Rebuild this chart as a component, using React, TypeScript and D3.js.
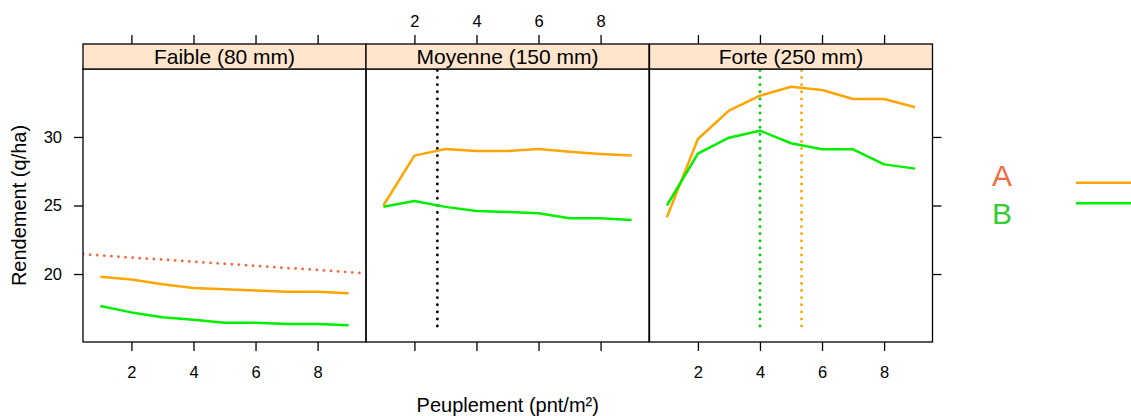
import { useEffect, useRef } from 'react';
import * as d3 from 'd3';

// Data
const densities = [1, 2, 3, 4, 5, 6, 7, 8, 9];
const panelLabels = ['Faible (80 mm)', 'Moyenne (150 mm)', 'Forte (250 mm)'];
const varieties = ['A', 'B'];

const faibleA = [19.8, 19.6, 19.25, 18.98, 18.88, 18.8, 18.7, 18.7, 18.6];
const faibleB = [17.66, 17.2, 16.84, 16.67, 16.45, 16.45, 16.35, 16.35, 16.26];
const moyenneA = [25.0, 28.64, 29.12, 28.98, 28.98, 29.12, 28.93, 28.76, 28.64];
const moyenneB = [24.91, 25.33, 24.9, 24.6, 24.53, 24.43, 24.07, 24.07, 23.94];
const forteA = [24.14, 29.85, 31.92, 33.01, 33.67, 33.43, 32.77, 32.77, 32.17];
const forteB = [25.0, 28.78, 29.95, 30.46, 29.54, 29.1, 29.1, 28.0, 27.69];

// reference lines: trend (intercept, slope) for Faible, optimum densities elsewhere
const faibleTrend = [21.51, -0.152];
const moyenneOptimum = [2.74];
const forteOptimumA = [5.34];
const forteOptimumB = [4.0];
const optimumBase = 16.2;

const xTicks = [2, 4, 6, 8];
const yTicks = [20, 25, 30];

const App = () => {
  const chartRef = useRef(null);

  useEffect(() => {
    if (!chartRef.current) return;
    d3.select(chartRef.current).selectAll('*').remove();

    const W = 1131;
    const H = 416;
    const font = '"Liberation Sans", Arial, Helvetica, sans-serif';
    const colA = '#FFA500';
    const colB = '#00EE00';
    const colTrend = '#F46D43';

    const svg = d3.select(chartRef.current)
      .attr('width', W)
      .attr('height', H)
      .style('font-family', font);

    const panelLeft = [83, 366, 649.5];
    const panelW = 283;
    const stripTop = 44;
    const stripH = 25;
    const panelTop = stripTop + stripH;
    const panelBottom = 342;

    const yScale = d3.scaleLinear().domain([15.04, 34.96]).range([panelBottom, panelTop]);

    const series = [
      { A: faibleA, B: faibleB },
      { A: moyenneA, B: moyenneB },
      { A: forteA, B: forteB },
    ];

    const line = (x) => d3.line()
      .x((d, i) => x(densities[i]))
      .y(d => yScale(d));

    panelLabels.forEach((label, p) => {
      const left = panelLeft[p];
      const xScale = d3.scaleLinear().domain([0.44, 9.56]).range([left, left + panelW]);

      const clipId = `clip-${p}`;
      svg.append('clipPath').attr('id', clipId)
        .append('rect')
        .attr('x', left).attr('y', panelTop)
        .attr('width', panelW).attr('height', panelBottom - panelTop);

      const g = svg.append('g').attr('clip-path', `url(#${clipId})`);

      // reference lines
      if (p === 0) {
        const [a, b] = faibleTrend;
        g.append('line')
          .attr('x1', xScale(0.44)).attr('y1', yScale(a + b * 0.44))
          .attr('x2', xScale(9.56)).attr('y2', yScale(a + b * 9.56))
          .attr('stroke', colTrend).attr('stroke-width', 2.8)
          .attr('stroke-linecap', 'round').attr('stroke-dasharray', '0.1 7');
      }
      const verticals = p === 1
        ? moyenneOptimum.map(v => [v, '#000'])
        : p === 2
          ? [...forteOptimumB.map(v => [v, '#00CC00']), ...forteOptimumA.map(v => [v, colA])]
          : [];
      verticals.forEach(([v, c]) => {
        g.append('line')
          .attr('x1', xScale(v)).attr('x2', xScale(v))
          .attr('y1', yScale(optimumBase)).attr('y2', yScale(35))
          .attr('stroke', c).attr('stroke-width', 2.8)
          .attr('stroke-linecap', 'round').attr('stroke-dasharray', '0.1 7');
      });

      // data lines
      varieties.forEach(v => {
        g.append('path')
          .datum(series[p][v])
          .attr('d', line(xScale))
          .attr('fill', 'none')
          .attr('stroke', v === 'A' ? colA : colB)
          .attr('stroke-width', 2.5)
          .attr('stroke-linejoin', 'round');
      });

      // panel border
      svg.append('rect')
        .attr('x', left).attr('y', panelTop)
        .attr('width', panelW).attr('height', panelBottom - panelTop)
        .attr('fill', 'none').attr('stroke', '#000').attr('stroke-width', 1.3);

      // strip
      svg.append('rect')
        .attr('x', left).attr('y', stripTop)
        .attr('width', panelW).attr('height', stripH)
        .attr('fill', '#FFE5CC').attr('stroke', '#000').attr('stroke-width', 1.3);
      svg.append('text')
        .attr('x', left + panelW / 2)
        .attr('y', stripTop + stripH / 2)
        .attr('dy', '0.36em')
        .attr('text-anchor', 'middle')
        .style('font-size', '21px')
        .style('fill', '#000')
        .text(label);

      // x axes: labels alternate bottom / top
      const labelsBottom = p !== 1;
      svg.append('g')
        .attr('transform', `translate(0,${panelBottom})`)
        .call(d3.axisBottom(xScale).tickValues(xTicks).tickSize(9).tickSizeOuter(0)
          .tickFormat(labelsBottom ? d3.format('d') : () => ''))
        .call(g2 => g2.select('.domain').remove())
        .call(g2 => g2.selectAll('.tick line').attr('stroke', '#000').attr('stroke-width', 1.3))
        .call(g2 => g2.selectAll('text')
          .attr('y', 30).attr('dy', '0.36em')
          .style('font-size', '16.5px').style('fill', '#000').style('font-family', font));

      svg.append('g')
        .attr('transform', `translate(0,${stripTop})`)
        .call(d3.axisTop(xScale).tickValues(xTicks).tickSize(9).tickSizeOuter(0)
          .tickFormat(!labelsBottom ? d3.format('d') : () => ''))
        .call(g2 => g2.select('.domain').remove())
        .call(g2 => g2.selectAll('.tick line').attr('stroke', '#000').attr('stroke-width', 1.3))
        .call(g2 => g2.selectAll('text')
          .attr('y', -23).attr('dy', '0.36em')
          .style('font-size', '16.5px').style('fill', '#000').style('font-family', font));
    });

    // y axes: labels left, ticks only right
    svg.append('g')
      .attr('transform', `translate(${panelLeft[0]},0)`)
      .call(d3.axisLeft(yScale).tickValues(yTicks).tickSize(9).tickPadding(12).tickSizeOuter(0))
      .call(g => g.select('.domain').remove())
      .call(g => g.selectAll('.tick line').attr('stroke', '#000').attr('stroke-width', 1.3))
      .call(g => g.selectAll('text')
        .style('font-size', '16.5px').style('fill', '#000').style('font-family', font));

    svg.append('g')
      .attr('transform', `translate(${panelLeft[2] + panelW},0)`)
      .call(d3.axisRight(yScale).tickValues(yTicks).tickSize(9).tickSizeOuter(0).tickFormat(() => ''))
      .call(g => g.select('.domain').remove())
      .call(g => g.selectAll('.tick line').attr('stroke', '#000').attr('stroke-width', 1.3));

    // axis titles
    svg.append('text')
      .attr('x', (panelLeft[0] + panelLeft[2] + panelW) / 2)
      .attr('y', 412)
      .attr('text-anchor', 'middle')
      .style('font-size', '20px')
      .style('fill', '#000')
      .text('Peuplement (pnt/m²)');

    svg.append('text')
      .attr('transform', `translate(26,${(panelTop + panelBottom) / 2}) rotate(-90)`)
      .attr('text-anchor', 'middle')
      .style('font-size', '20px')
      .style('fill', '#000')
      .text('Rendement (q/ha)');

    // legend
    const legendText = [['A', colTrend, 186], ['B', '#33CC33', 224]];
    legendText.forEach(([t, c, y]) => {
      svg.append('text')
        .attr('x', 1002).attr('y', y)
        .attr('text-anchor', 'middle')
        .style('font-size', '30px')
        .style('fill', c)
        .text(t);
    });
    const legendLines = [[colA, 182.7], [colB, 203.3]];
    legendLines.forEach(([c, y]) => {
      svg.append('line')
        .attr('x1', 1076).attr('x2', 1140)
        .attr('y1', y).attr('y2', y)
        .attr('stroke', c).attr('stroke-width', 2.5);
    });
  }, []);

  return (
    <div style={{ position: 'fixed', left: 0, top: 0, width: 1131, height: 416, background: '#fff' }}>
      <svg ref={chartRef} style={{ display: 'block' }} />
    </div>
  );
};

export default App;
